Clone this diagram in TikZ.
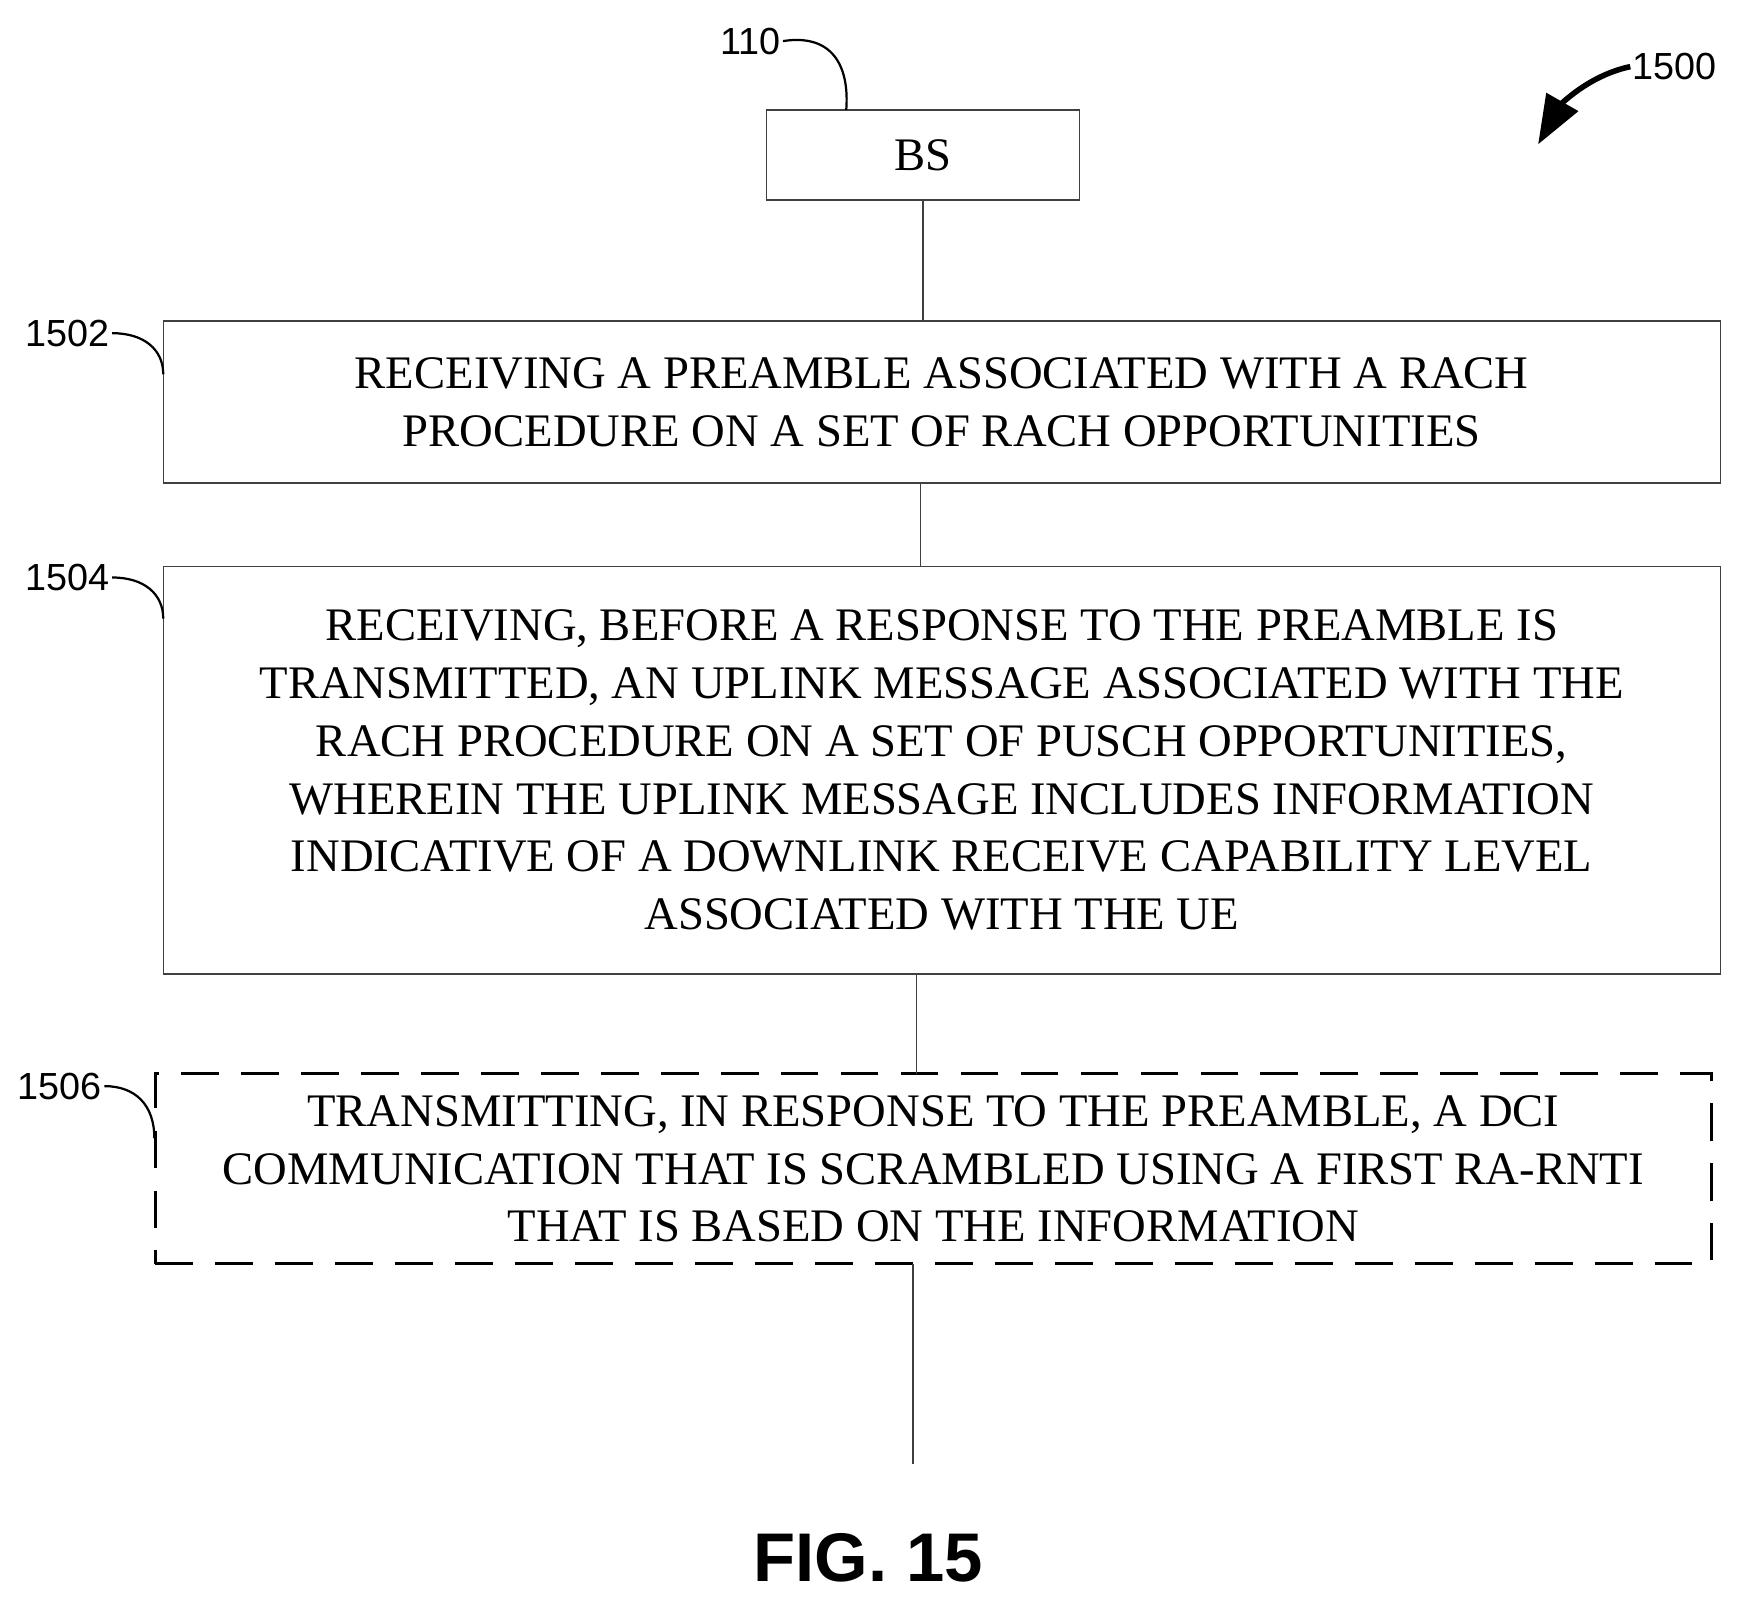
\documentclass[tikz,border=0pt]{standalone}
\usepackage{fontspec}
\setmainfont{Liberation Serif}
\newfontfamily\arialf{Liberation Sans}
\usetikzlibrary{arrows.meta}
\begin{document}
\begin{tikzpicture}[x=0.5pt,y=-0.5pt,
  box/.style={draw=black!75,line width=0.6pt,inner sep=0pt,align=center,font=\fontsize{21}{26}\selectfont},
  lbl/.style={font=\arialf\fontsize{17}{20}\selectfont,inner sep=1pt},
  lead/.style={line width=1pt},
  conn/.style={draw=black!75,line width=0.6pt}]
\useasboundingbox (0,0) rectangle (1565,1441);
\node[box,minimum width=141pt,minimum height=40.5pt] (bs) at (831,139.5) {BS};
\node[box,minimum width=701pt,minimum height=73pt] (b1) at (848,362) {RECEIVING A PREAMBLE ASSOCIATED WITH A RACH\\PROCEDURE ON A SET OF RACH OPPORTUNITIES};
\node[box,minimum width=701pt,minimum height=183.5pt] (b2) at (848,693.5) {RECEIVING, BEFORE A RESPONSE TO THE PREAMBLE IS\\TRANSMITTED, AN UPLINK MESSAGE ASSOCIATED WITH THE\\RACH PROCEDURE ON A SET OF PUSCH OPPORTUNITIES,\\WHEREIN THE UPLINK MESSAGE INCLUDES INFORMATION\\INDICATIVE OF A DOWNLINK RECEIVE CAPABILITY LEVEL\\ASSOCIATED WITH THE UE};
\node[box,draw=black,line width=1.4pt,dash pattern=on 17pt off 10pt,minimum width=700.5pt,minimum height=85.5pt] (b3) at (840.5,1052.5) {TRANSMITTING, IN RESPONSE TO THE PREAMBLE, A DCI\\COMMUNICATION THAT IS SCRAMBLED USING A FIRST RA-RNTI\\THAT IS BASED ON THE INFORMATION};
\coordinate (end) at (822,1318);
\draw[conn] (bs.south) -- (bs.south |- b1.north);
\draw[conn] (829,435) -- (829,510);
\draw[conn] (825,877) -- (825,967);
\draw[conn] (822,1138) -- (end);
\node[lbl,anchor=east] (l110) at (705,37) {110};
\draw[lead] (l110.east) .. controls (750,30) and (765,60) .. (762,99);
\node[lbl,anchor=east] (l1502) at (101,300) {1502};
\draw[lead] (l1502.east) .. controls (130,300) and (147,315) .. (147,337);
\node[lbl,anchor=east] (l1504) at (101,520) {1504};
\draw[lead] (l1504.east) .. controls (130,520) and (147,535) .. (147,557);
\node[lbl,anchor=east] (l1506) at (94,978) {1506};
\draw[lead] (l1506.east) .. controls (122,978) and (139,995) .. (139,1025);
\node[lbl,anchor=west] (l1500) at (1468,60) {1500};
\draw[line width=2.5pt,-{Triangle[length=22pt,width=16pt]}] (l1500.west) .. controls (1430,68) and (1405,95) .. (1385,130);
\node[font=\arialf\bfseries\fontsize{31}{36}\selectfont] (fig) at (782,1403) {FIG. 15};
\end{tikzpicture}
\end{document}
